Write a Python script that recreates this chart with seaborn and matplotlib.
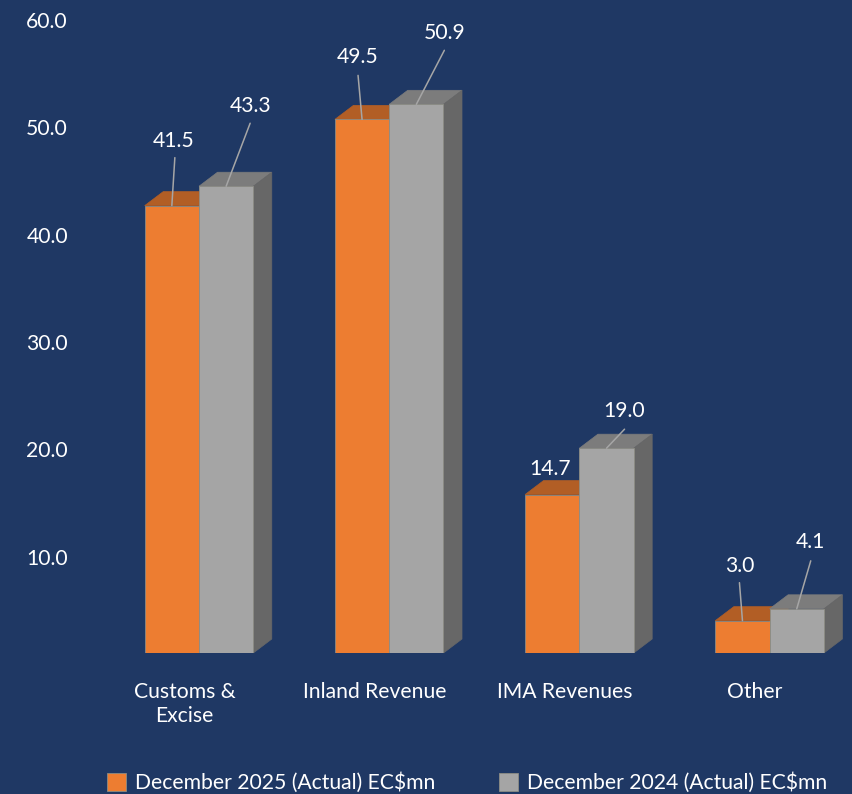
import matplotlib
matplotlib.use("Agg")
import matplotlib.pyplot as plt
from matplotlib.patches import Polygon
import pandas as pd
import seaborn as sns

categories = ["Customs &\nExcise", "Inland Revenue", "IMA Revenues", "Other"]
series_names = ["December 2025 (Actual) EC$mn", "December 2024 (Actual) EC$mn"]
values_2025 = [41.5, 49.5, 14.7, 3.0]
values_2024 = [43.3, 50.9, 19.0, 4.1]
y_ticks = [0, 10, 20, 30, 40, 50, 60]

# Styling
BG = "#1F3864"
FRONT = ["#ED7D31", "#A5A5A5"]
TOP = ["#B25E25", "#7C7C7C"]
SIDE = ["#B25E25", "#676767"]
EDGE = "#8C8C84"
TEXT = "#FFFFFF"
FONT = "Lato"
FS = 15.2
W, H = 853, 794
PX_PER_CAT = 190.2
PX_PER_UNIT = 10.78
ZERO_X, ZERO_Y = 199.0, 653.0
AX_LEFT = 84.0
DEPTH_X, DEPTH_Y = 18.5, 14.0

# Leader/label offsets in pixels from each bar's top centre: start dx, end (dx, dy), label (dx, dy)
label_layout = {
    0: [(0, (0, 0), (3, 48), (2, 65)), (0, (0, 0), (24, 63), (24, 80))],
}
offsets_2025 = [((0, 0), (3, 48), (2, 65)), ((-1, 0), (-4, 44), (-4, 62)),
                None, ((-3, 0), (-3, 38), (-3, 55))]
offsets_2024 = [((0, 0), (24, 63), (24, 80)), ((-1, 0), (28, 54), (28, 71)),
                ((0, 0), (18, 19), (18, 37)), ((-2, 0), (14, 48), (14, 67))]
plain_label_2025 = {2: (-2, 26)}

df = pd.DataFrame({
    "category": categories * 2,
    "series": [series_names[0]] * 4 + [series_names[1]] * 4,
    "value": values_2025 + values_2024,
})

sns.set_theme(style="white")
plt.rcParams["font.family"] = [FONT, "DejaVu Sans"]
fig = plt.figure(figsize=(W / 100, H / 100), dpi=100, facecolor=BG)
ax = fig.add_axes([AX_LEFT / W, (H - ZERO_Y) / H, (W - AX_LEFT) / W, ZERO_Y / H])
ax.set_facecolor(BG)

sns.barplot(data=df, x="category", y="value", hue="series", hue_order=series_names,
            palette=FRONT, saturation=1, width=2 * 54.3 / PX_PER_CAT, dodge=True,
            edgecolor=EDGE, linewidth=0.6, ax=ax, zorder=3)

ax.set_xlim((AX_LEFT - ZERO_X) / PX_PER_CAT, (W - ZERO_X) / PX_PER_CAT)
ax.set_ylim(0, ZERO_Y / PX_PER_UNIT)
ax.set_xlabel("")
ax.set_ylabel("")
for s in ax.spines.values():
    s.set_visible(False)
ax.tick_params(left=False, bottom=False, labelleft=False, labelbottom=False)
ax.grid(False)

dx = DEPTH_X / PX_PER_CAT
dy = DEPTH_Y / PX_PER_UNIT
for k, container in enumerate(ax.containers):
    for bar in container:
        x0, x1, h = bar.get_x(), bar.get_x() + bar.get_width(), bar.get_height()
        ax.add_patch(Polygon([(x0, h), (x1, h), (x1 + dx, h + dy), (x0 + dx, h + dy)],
                             closed=True, facecolor=TOP[k], edgecolor=TOP[k], lw=0.5, zorder=1 + k * 0.1))
        ax.add_patch(Polygon([(x1, 0), (x1 + dx, dy), (x1 + dx, h + dy), (x1, h)],
                             closed=True, facecolor=SIDE[k], edgecolor=SIDE[k], lw=0.5, zorder=1 + k * 0.1))

# Data labels with leader lines
for k, (container, vals, offs) in enumerate(zip(ax.containers, [values_2025, values_2024],
                                                [offsets_2025, offsets_2024])):
    for i, (bar, v) in enumerate(zip(container, vals)):
        xc = bar.get_x() + bar.get_width() / 2
        if offs[i] is None:
            lx, ly = plain_label_2025[i]
        else:
            start, end, (lx, ly) = offs[i]
            ax.annotate("", xy=(xc, v), xycoords="data", xytext=end, textcoords="offset pixels",
                        arrowprops=dict(arrowstyle="-", color="#A6A6A6", lw=1.1,
                                        shrinkA=0, shrinkB=0), zorder=5)
        ax.annotate(f"{v:.1f}", xy=(xc, v), xycoords="data", xytext=(lx, ly),
                    textcoords="offset pixels", ha="center", va="center",
                    color=TEXT, fontsize=FS, zorder=6)

# Value axis labels sit on their own scale (front plane of the 3D chart)
LABEL_ZERO_Y, LABEL_PX = 664.0, 10.733
def to_sec(p):
    return (p * PX_PER_UNIT + (LABEL_ZERO_Y - ZERO_Y)) / LABEL_PX
def to_pri(s):
    return (s * LABEL_PX - (LABEL_ZERO_Y - ZERO_Y)) / PX_PER_UNIT
sy = ax.secondary_yaxis("left", functions=(to_sec, to_pri))
sy.set_yticks(y_ticks, [f"{t:.1f}" for t in y_ticks])
sy.tick_params(length=0, pad=AX_LEFT * 0.72 - 68 * 0.72 + 0, labelcolor=TEXT, labelsize=FS)
sy.spines["left"].set_visible(False)

# Category labels are shifted left of the group centres
SHIFT = 14.5 / PX_PER_CAT
sx = ax.secondary_xaxis("bottom", functions=(lambda p: p + SHIFT, lambda s: s - SHIFT))
sx.set_xticks(range(len(categories)), categories)
sx.tick_params(length=0, pad=21, labelcolor=TEXT, labelsize=FS)
sx.spines["bottom"].set_visible(False)
for t in sx.get_xticklabels():
    t.set_linespacing(1.25)

handles, labels = ax.get_legend_handles_labels()
ax.legend_.remove() if ax.legend_ else None
fig.legend(handles, labels, ncol=2, frameon=False, loc="center left",
           bbox_to_anchor=(107 / W, (H - 783) / H), handlelength=0.92, handleheight=0.92,
           handletextpad=0.42, columnspacing=3.0, labelcolor=TEXT, fontsize=FS,
           borderaxespad=0, borderpad=0)
fig.savefig("out.png", dpi=100, facecolor=BG)
